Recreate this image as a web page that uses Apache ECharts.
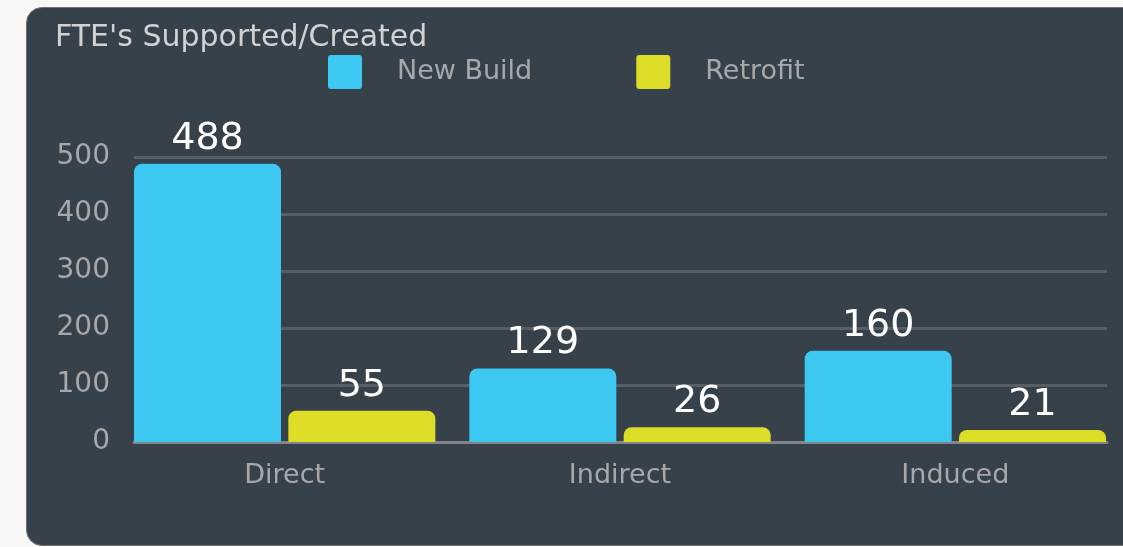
<!DOCTYPE html>
<html>
<head>
<meta charset="utf-8">
<script src="https://cdn.jsdelivr.net/npm/echarts@6/dist/echarts.min.js"></script>
<style>
  html, body { margin: 0; padding: 0; background: #f8f8f8; overflow: hidden; }
  .panel {
    position: absolute; left: 26px; top: 7px; width: 1120px; height: 537px;
    background: #37414a; border: 1px solid #6f7378; border-radius: 16px;
  }
  #chart { position: absolute; left: 0; top: 0; width: 1123px; height: 547px; }
</style>
</head>
<body>
<div class="panel"></div>
<div id="chart"></div>
<script>
// chart data
var categories = ["Direct", "Indirect", "Induced"];
var newBuild = [488, 129, 160];
var retrofit = [55, 26, 21];
var yTicks = [0, 100, 200, 300, 400, 500];

var myChart = echarts.init(document.getElementById("chart"));
var font = "DejaVu Sans";

var option = {
    backgroundColor: "transparent",
    title: {
        text: "FTE's Supported/Created",
        left: 50,
        top: 18,
        textStyle: { color: "#d2d2d2", fontSize: 30, fontWeight: "normal", fontFamily: font }
    },
    legend: {
        data: ["New Build", "Retrofit"],
        left: 328,
        top: 55,
        padding: 0,
        icon: "path://M3,0 L31,0 Q34,0 34,3 L34,31 Q34,34 31,34 L3,34 Q0,34 0,31 L0,3 Q0,0 3,0 Z",
        itemWidth: 34,
        itemHeight: 34,
        itemGap: 104,
        textStyle: { color: "#a8a8a8", fontSize: 27, fontFamily: font, padding: [0, 0, 0, 30] }
    },
    // grid 0 draws the split lines and y labels, grid 1 holds the bars
    grid: [
        { left: 134, right: 16, top: 157, bottom: 105 },
        { left: 117, right: -2, top: 157, bottom: 105 }
    ],
    xAxis: [
        {
            gridIndex: 0, type: "value", min: 0, max: 1,
            axisLabel: { show: false }, axisTick: { show: false }, splitLine: { show: false },
            axisLine: { show: true, lineStyle: { color: "#80858a", width: 3 } }
        },
        {
            gridIndex: 1, type: "category", data: categories,
            axisLine: { show: false }, axisTick: { show: false },
            axisLabel: { color: "#a8a8a8", fontSize: 27, fontFamily: font, margin: 20 }
        }
    ],
    yAxis: [
        {
            gridIndex: 0, type: "value", min: yTicks[0], max: yTicks[yTicks.length - 1], interval: 100,
            axisLine: { show: false }, axisTick: { show: false },
            axisLabel: { color: "#a8a8a8", fontSize: 28, fontFamily: font, margin: 24 },
            splitLine: { lineStyle: { color: "#565e66", width: 3 } }
        },
        {
            gridIndex: 1, type: "value", min: 0, max: 500, show: false, splitLine: { show: false }
        }
    ],
    series: [
        {
            name: "New Build", type: "bar", xAxisIndex: 1, yAxisIndex: 1,
            data: newBuild, barWidth: 147, barGap: "5%",
            itemStyle: { color: "#3dc8f2", borderRadius: [8, 8, 0, 0] },
            label: { show: true, position: "top", distance: 6, color: "#ffffff", fontSize: 38, fontFamily: font }
        },
        {
            name: "Retrofit", type: "bar", xAxisIndex: 1, yAxisIndex: 1,
            data: retrofit, barWidth: 147, barGap: "5%",
            itemStyle: { color: "#dddd27", borderRadius: [8, 8, 0, 0] },
            label: { show: true, position: "top", distance: 6, color: "#ffffff", fontSize: 38, fontFamily: font }
        }
    ]
};
myChart.setOption(option);
</script>
</body>
</html>
